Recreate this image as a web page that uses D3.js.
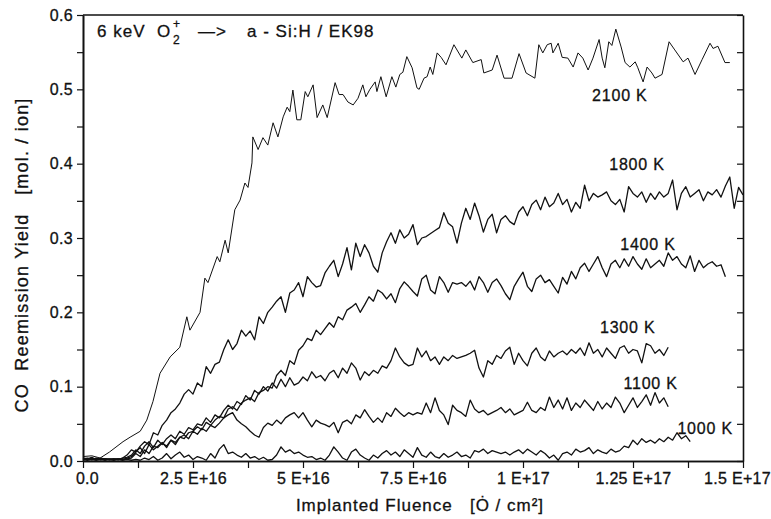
<!DOCTYPE html>
<html>
<head>
<meta charset="utf-8">
<script src="https://cdn.jsdelivr.net/npm/d3@7"></script>
<style>
  html, body { margin: 0; padding: 0; background: #fff; }
  svg text { font-family: "Liberation Sans", Arial, sans-serif; fill: #111; stroke: #111; stroke-width: 0.3px; white-space: pre; }
</style>
</head>
<body>
<svg id="chart" width="771" height="519"></svg>
<script>
// Fluence in units of 1E16 O/cm², yield in mol./ion

// 2100 K is read as (fluence, yield) pairs
const fluence2100 = [0.00,0.20,0.39,0.60,0.91,1.07,1.30,1.45,1.59,1.75,1.98,2.20,2.36,2.43,2.66,2.77,2.84,3.05,3.11,3.23,
  3.30,3.45,3.57,3.68,3.75,3.84,3.86,3.98,4.09,4.20,4.32,4.43,4.55,4.64,4.70,4.77,4.86,4.95,5.05,5.11,
  5.23,5.32,5.45,5.55,5.73,5.82,5.91,6.02,6.14,6.25,6.36,6.43,6.52,6.64,6.68,6.77,6.89,7.02,7.11,7.20,
  7.27,7.36,7.48,7.59,7.64,7.75,7.82,7.89,7.95,8.05,8.14,8.25,8.43,8.61,8.70,8.86,9.05,9.11,9.30,9.41,
  9.57,9.75,9.91,10.07,10.27,10.36,10.45,10.55,10.64,10.68,10.80,10.89,11.02,11.14,11.25,11.36,11.48,11.59,11.73,11.80,
  11.86,11.95,12.02,12.11,12.23,12.32,12.43,12.55,12.61,12.73,12.82,12.93,13.00,13.16,13.32,13.45,13.64,13.75,13.91,14.07,
  14.25,14.32,14.43,14.59,14.70];
const yield2100 = [0.006,0.007,0.004,0.012,0.026,0.032,0.040,0.055,0.080,0.118,0.140,0.153,0.194,0.176,0.200,0.246,0.240,0.275,0.268,0.297,
  0.280,0.338,0.351,0.374,0.368,0.401,0.436,0.419,0.435,0.425,0.455,0.436,0.463,0.476,0.470,0.499,0.459,0.459,0.497,0.490,
  0.506,0.462,0.479,0.462,0.509,0.493,0.493,0.483,0.479,0.488,0.506,0.490,0.500,0.510,0.497,0.517,0.490,0.517,0.503,0.520,
  0.523,0.544,0.529,0.502,0.500,0.515,0.517,0.530,0.520,0.549,0.543,0.533,0.560,0.542,0.553,0.536,0.540,0.522,0.526,0.546,
  0.515,0.515,0.548,0.522,0.515,0.560,0.549,0.560,0.562,0.549,0.562,0.543,0.542,0.530,0.549,0.542,0.526,0.542,0.567,0.542,
  0.529,0.564,0.559,0.581,0.557,0.536,0.530,0.537,0.529,0.510,0.530,0.522,0.515,0.520,0.564,0.553,0.537,0.542,0.520,0.540,
  0.562,0.555,0.558,0.536,0.536];

// the other runs are sampled every 0.1 E+16, starting at 0
const fluenceStep = 0.1;
const yield1800 = [
  0.004,0.003,0.005,0.002,0.004,0.003,0.002,0.003,0.002,0.004,
  0.008,0.015,0.012,0.020,0.026,0.022,0.038,0.035,0.048,0.055,
  0.065,0.070,0.078,0.090,0.096,0.090,0.105,0.100,0.127,0.118,
  0.130,0.133,0.150,0.163,0.150,0.158,0.176,0.168,0.175,0.163,
  0.194,0.185,0.200,0.207,0.215,0.221,0.200,0.226,0.230,0.240,
  0.221,0.248,0.240,0.234,0.236,0.253,0.262,0.270,0.248,0.265,
  0.287,0.257,0.293,0.275,0.291,0.280,0.262,0.254,0.280,0.295,
  0.307,0.293,0.311,0.300,0.305,0.318,0.291,0.300,0.302,0.306,
  0.310,0.314,0.334,0.320,0.315,0.293,0.320,0.340,0.325,0.347,
  0.330,0.308,0.325,0.332,0.307,0.325,0.330,0.322,0.318,0.335,
  0.342,0.330,0.345,0.351,0.338,0.355,0.342,0.347,0.360,0.345,
  0.352,0.335,0.348,0.340,0.371,0.350,0.360,0.355,0.358,0.362,
  0.350,0.345,0.352,0.335,0.369,0.360,0.355,0.362,0.348,0.360,
  0.352,0.362,0.355,0.360,0.378,0.338,0.360,0.369,0.355,0.360,
  0.365,0.350,0.362,0.358,0.365,0.355,0.370,0.382,0.340,0.368,
  0.358];
const yield1400 = [
  0.003,0.004,0.002,0.003,0.002,0.003,0.002,0.002,0.003,0.002,
  0.003,0.004,0.010,0.006,0.015,0.010,0.020,0.018,0.024,0.020,
  0.028,0.025,0.032,0.030,0.038,0.040,0.046,0.042,0.052,0.048,
  0.055,0.060,0.058,0.070,0.073,0.068,0.078,0.082,0.085,0.080,
  0.092,0.095,0.100,0.098,0.115,0.122,0.115,0.135,0.130,0.149,
  0.155,0.165,0.162,0.176,0.170,0.178,0.186,0.180,0.194,0.190,
  0.203,0.207,0.212,0.200,0.210,0.221,0.215,0.230,0.226,0.218,
  0.225,0.213,0.232,0.241,0.235,0.228,0.222,0.245,0.250,0.230,
  0.225,0.248,0.240,0.227,0.240,0.238,0.240,0.235,0.242,0.230,
  0.248,0.240,0.227,0.240,0.245,0.236,0.225,0.217,0.235,0.245,
  0.254,0.235,0.228,0.245,0.250,0.240,0.244,0.235,0.226,0.247,
  0.238,0.255,0.245,0.260,0.266,0.255,0.265,0.275,0.260,0.248,
  0.265,0.270,0.260,0.272,0.262,0.275,0.265,0.258,0.272,0.260,
  0.265,0.270,0.262,0.280,0.270,0.275,0.265,0.260,0.276,0.255,
  0.270,0.260,0.265,0.268,0.262,0.264,0.248];
const yield1300 = [
  0.002,0.003,0.002,0.004,0.002,0.003,0.002,0.003,0.002,0.004,
  0.005,0.008,0.015,0.010,0.020,0.026,0.018,0.028,0.022,0.030,
  0.035,0.030,0.040,0.036,0.045,0.042,0.050,0.048,0.058,0.052,
  0.062,0.058,0.068,0.075,0.070,0.080,0.076,0.088,0.082,0.095,
  0.090,0.100,0.094,0.105,0.098,0.110,0.100,0.112,0.102,0.105,
  0.113,0.108,0.120,0.112,0.115,0.108,0.118,0.122,0.112,0.125,
  0.118,0.132,0.125,0.109,0.120,0.115,0.122,0.118,0.128,0.125,
  0.135,0.152,0.140,0.132,0.128,0.130,0.152,0.140,0.148,0.135,
  0.140,0.130,0.140,0.135,0.142,0.138,0.140,0.142,0.145,0.149,
  0.125,0.113,0.135,0.130,0.142,0.138,0.148,0.153,0.130,0.145,
  0.135,0.128,0.145,0.152,0.140,0.135,0.148,0.140,0.145,0.148,
  0.143,0.150,0.145,0.152,0.142,0.159,0.145,0.150,0.140,0.152,
  0.145,0.138,0.152,0.155,0.145,0.150,0.148,0.132,0.158,0.155,
  0.145,0.150,0.142,0.153];
const yield1100 = [
  0.003,0.002,0.004,0.002,0.003,0.002,0.003,0.002,0.003,0.002,
  0.004,0.006,0.012,0.018,0.010,0.022,0.015,0.020,0.025,0.018,
  0.028,0.022,0.032,0.035,0.030,0.040,0.036,0.044,0.040,0.048,
  0.045,0.051,0.058,0.062,0.065,0.055,0.050,0.046,0.040,0.035,
  0.032,0.045,0.051,0.048,0.055,0.050,0.058,0.062,0.065,0.058,
  0.065,0.055,0.046,0.055,0.051,0.049,0.046,0.052,0.038,0.052,
  0.055,0.050,0.062,0.058,0.069,0.060,0.052,0.058,0.052,0.065,
  0.060,0.071,0.065,0.060,0.065,0.062,0.065,0.063,0.078,0.065,
  0.085,0.068,0.062,0.049,0.075,0.068,0.065,0.060,0.082,0.070,
  0.065,0.068,0.062,0.065,0.068,0.072,0.065,0.070,0.062,0.065,
  0.068,0.079,0.068,0.065,0.072,0.068,0.086,0.072,0.082,0.070,
  0.085,0.068,0.078,0.072,0.082,0.075,0.068,0.080,0.070,0.078,
  0.072,0.086,0.078,0.065,0.075,0.085,0.072,0.080,0.089,0.075,
  0.092,0.078,0.085,0.073];
const yield1000 = [
  0.002,0.001,0.002,0.001,0.002,0.001,0.002,0.001,0.002,0.001,
  0.002,0.001,0.002,0.001,0.004,0.002,0.006,0.001,0.004,0.010,
  0.003,0.008,0.012,0.005,0.008,0.002,0.006,0.004,0.001,0.010,
  0.004,0.016,0.022,0.010,0.012,0.008,0.005,0.010,0.004,0.006,
  0.002,0.005,0.001,0.002,0.008,0.019,0.012,0.015,0.010,0.012,
  0.008,0.005,0.006,0.002,0.004,0.001,0.008,0.019,0.012,0.004,
  0.001,0.012,0.016,0.008,0.004,0.001,0.008,0.004,0.010,0.014,
  0.008,0.012,0.006,0.015,0.010,0.005,0.018,0.008,0.005,0.012,
  0.006,0.004,0.010,0.005,0.008,0.012,0.006,0.008,0.004,0.014,
  0.012,0.016,0.010,0.014,0.012,0.010,0.012,0.008,0.012,0.015,
  0.010,0.016,0.012,0.008,0.014,0.010,0.004,0.008,0.001,0.010,
  0.012,0.008,0.016,0.012,0.014,0.018,0.010,0.015,0.012,0.010,
  0.016,0.012,0.014,0.020,0.018,0.028,0.022,0.030,0.025,0.028,
  0.024,0.030,0.026,0.032,0.028,0.038,0.030,0.034,0.026];

const seriesNames = ["2100 K", "1800 K", "1400 K", "1300 K", "1100 K", "1000 K"];
// label anchors (fluence, yield) where each temperature is written
const labelFluence = [12.20, 12.59, 12.84, 12.38, 12.90, 14.14];
const labelYield   = [0.484, 0.392, 0.284, 0.172, 0.097, 0.036];

const xTicks = [0, 2.5, 5, 7.5, 10, 12.5, 15];
const xTickLabels = ["0.0", "2.5 E+16", "5 E+16", "7.5 E+16", "1 E+17", "1.25 E+17", "1.5 E+17"];
const xMinor = [1.25, 3.75, 6.25, 8.75, 11.25, 13.75];
const yTicks = [0, 0.1, 0.2, 0.3, 0.4, 0.5, 0.6];
const yTickLabels = ["0.0", "0.1", "0.2", "0.3", "0.4", "0.5", "0.6"];
const yMinor = [0.05, 0.15, 0.25, 0.35, 0.45, 0.55];

const svg = d3.select("#chart");
const L = 83, R = 743, T = 15, B = 461;

const x = d3.scaleLinear().domain([0, 15]).range([L, R]);
const y = d3.scaleLinear().domain([0, 0.6]).range([B, T]);

// build point lists
const sampled = arr => arr.map((v, i) => [i * fluenceStep, v]);
const series = [
  fluence2100.map((f, i) => [f, yield2100[i]]),
  sampled(yield1800), sampled(yield1400), sampled(yield1300), sampled(yield1100), sampled(yield1000)
];

const line = d3.line().x(d => x(d[0])).y(d => y(d[1]));

svg.append("g").selectAll("path")
  .data(series).enter().append("path")
  .attr("d", line)
  .attr("fill", "none")
  .attr("stroke", "#111")
  .attr("stroke-width", (d, i) => i === 0 ? 1.0 : 1.3)
  .attr("stroke-linejoin", "round");

// Axes
function styleAxis(g) {
  g.select(".domain").attr("stroke", "#111").attr("stroke-width", 1.6);
  g.selectAll(".tick line").attr("stroke", "#111").attr("stroke-width", 1.2);
  g.selectAll(".tick text").attr("fill", "#111")
    .style("font-family", '"Liberation Sans", Arial, sans-serif')
    .style("font-size", "16px").style("letter-spacing", "0.3px");
}

const xAxis = svg.append("g").attr("transform", `translate(0,${B})`)
  .call(d3.axisBottom(x).tickValues(xTicks).tickFormat((d, i) => xTickLabels[i]).tickSize(7).tickSizeOuter(0).tickPadding(5))
  .call(styleAxis);
xAxis.selectAll(".tick text").attr("dx", (d, i) => i === 0 ? 4 : (i === xTicks.length - 1 ? -6 : 0));
svg.append("g").attr("transform", `translate(0,${B})`)
  .call(d3.axisBottom(x).tickValues(xMinor).tickFormat("").tickSize(7).tickSizeOuter(0))
  .call(styleAxis);

svg.append("g").attr("transform", `translate(${L},0)`)
  .call(d3.axisLeft(y).tickValues(yTicks).tickFormat((d, i) => yTickLabels[i]).tickSize(6).tickSizeOuter(0).tickPadding(4))
  .call(styleAxis);
svg.append("g").attr("transform", `translate(${L},0)`)
  .call(d3.axisLeft(y).tickValues(yMinor).tickFormat("").tickSize(6).tickSizeOuter(0))
  .call(styleAxis);

// right frame with inward ticks
svg.append("g").attr("transform", `translate(${R},0)`)
  .call(d3.axisLeft(y).tickValues(yTicks.concat(yMinor)).tickFormat("").tickSize(6).tickSizeOuter(0))
  .call(styleAxis);
// top frame
svg.append("line").attr("x1", L).attr("x2", R).attr("y1", T).attr("y2", T)
  .attr("stroke", "#111").attr("stroke-width", 1.6);

// series labels
svg.append("g").selectAll("text")
  .data(seriesNames).enter().append("text")
  .attr("x", (d, i) => x(labelFluence[i]))
  .attr("y", (d, i) => y(labelYield[i]))
  .attr("text-anchor", "middle")
  .style("font-size", "16px").style("letter-spacing", "0.8px")
  .text(d => d);

// axis titles
svg.append("text")
  .attr("x", 420).attr("y", 511)
  .attr("text-anchor", "middle")
  .style("font-size", "17px").style("letter-spacing", "1px")
  .text("Implanted Fluence   [\u022E / cm\u00B2]");

svg.append("text")
  .attr("transform", "translate(28,255) rotate(-90)")
  .attr("text-anchor", "middle")
  .style("font-size", "18px").style("letter-spacing", "1.2px")
  .text("CO  Reemission Yield   [mol. / ion]");

// title:  6 keV O2+ --> a - Si:H / EK98
const title = svg.append("g").style("font-size", "17px").style("letter-spacing", "1px");
title.append("text").attr("x", 97).attr("y", 37).text("6 keV");
title.append("text").attr("x", 157).attr("y", 37).text("O");
title.append("text").attr("x", 173).attr("y", 28).style("font-size", "12px").text("+");
title.append("text").attr("x", 173).attr("y", 44).style("font-size", "12px").text("2");
title.append("text").attr("x", 198).attr("y", 37).text("\u2014>");
title.append("text").attr("x", 247).attr("y", 37).text("a - Si:H / EK98");
</script>
</body>
</html>
